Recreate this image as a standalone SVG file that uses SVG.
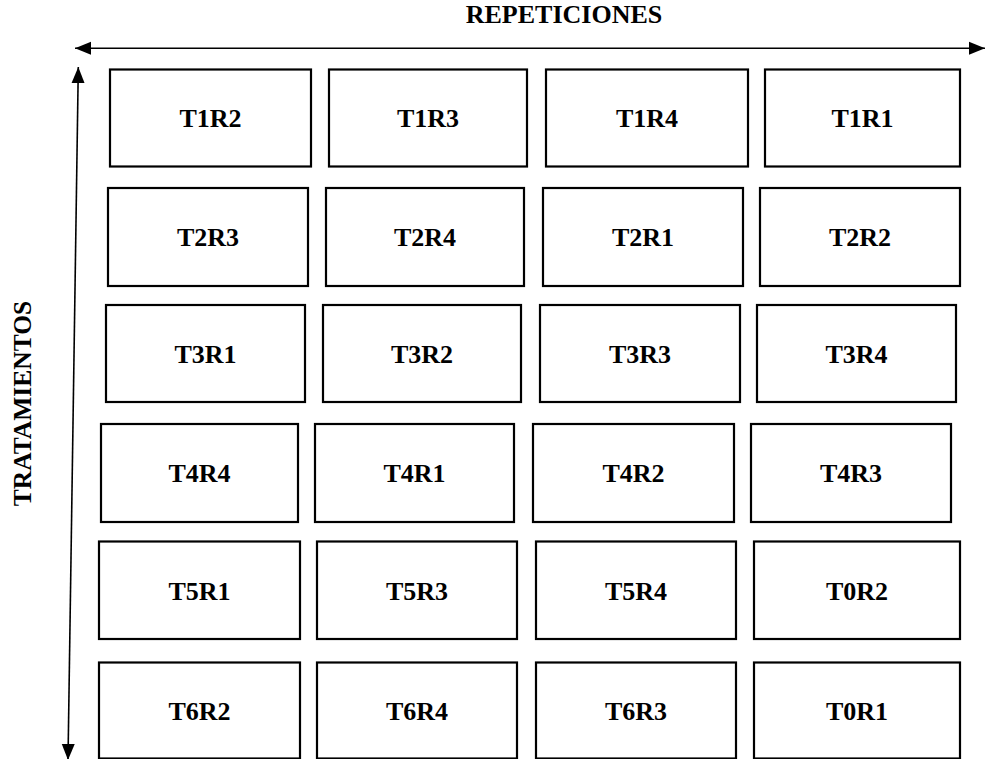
<svg xmlns="http://www.w3.org/2000/svg" width="985" height="759" viewBox="0 0 985 759">
  <style>
    .box { fill: #ffffff; stroke: #000000; stroke-width: 2.2; }
    .lbl { font-family: "Liberation Serif", "Times New Roman", serif; font-weight: bold; font-size: 26px; fill: #000000; text-anchor: middle; }
    .axis { stroke: #000000; stroke-width: 1.6; fill: none; marker-start: url(#arr); marker-end: url(#arr); }
  </style>
  <defs>
    <marker id="arr" markerUnits="userSpaceOnUse" markerWidth="17" markerHeight="14" refX="16" refY="7" orient="auto-start-reverse" viewBox="0 0 17 14">
      <path d="M0,0.5 L16,7 L0,13.5 z" fill="#000000"/>
    </marker>
  </defs>
  <rect width="985" height="759" fill="#ffffff"/>

  <g id="axis-labels">
    <text class="lbl" x="564" y="23">REPETICIONES</text>
    <text class="lbl" x="0" y="0" style="font-size:25.5px" transform="translate(31,403.5) rotate(-90)">TRATAMIENTOS</text>
  </g>

  <g id="connectors">
    <line class="axis" x1="75" y1="48.3" x2="985" y2="48.3"/>
    <line class="axis" x1="78.3" y1="67" x2="68" y2="760"/>
  </g>

  <g id="row1">
    <g id="T1R2"><rect class="box" x="110" y="69.5" width="201" height="97"/><text class="lbl" x="210.5" y="127">T1R2</text></g>
    <g id="T1R3"><rect class="box" x="329" y="69.5" width="198" height="97"/><text class="lbl" x="428" y="127">T1R3</text></g>
    <g id="T1R4"><rect class="box" x="546" y="69.5" width="202" height="97"/><text class="lbl" x="647" y="127">T1R4</text></g>
    <g id="T1R1"><rect class="box" x="765" y="69.5" width="195" height="97"/><text class="lbl" x="862.5" y="127">T1R1</text></g>
  </g>
  <g id="row2">
    <g id="T2R3"><rect class="box" x="108" y="188" width="200" height="98"/><text class="lbl" x="208" y="246">T2R3</text></g>
    <g id="T2R4"><rect class="box" x="326" y="188" width="198" height="98"/><text class="lbl" x="425" y="246">T2R4</text></g>
    <g id="T2R1"><rect class="box" x="543" y="188" width="200" height="98"/><text class="lbl" x="643" y="246">T2R1</text></g>
    <g id="T2R2"><rect class="box" x="760" y="188" width="200" height="98"/><text class="lbl" x="860" y="246">T2R2</text></g>
  </g>
  <g id="row3">
    <g id="T3R1"><rect class="box" x="106" y="305" width="199" height="97"/><text class="lbl" x="205.5" y="362.5">T3R1</text></g>
    <g id="T3R2"><rect class="box" x="323" y="305" width="198" height="97"/><text class="lbl" x="422" y="362.5">T3R2</text></g>
    <g id="T3R3"><rect class="box" x="540" y="305" width="200" height="97"/><text class="lbl" x="640" y="362.5">T3R3</text></g>
    <g id="T3R4"><rect class="box" x="757" y="305" width="199" height="97"/><text class="lbl" x="856.5" y="362.5">T3R4</text></g>
  </g>
  <g id="row4">
    <g id="T4R4"><rect class="box" x="101" y="424" width="197" height="98"/><text class="lbl" x="199.5" y="482">T4R4</text></g>
    <g id="T4R1"><rect class="box" x="315" y="424" width="199" height="98"/><text class="lbl" x="414.5" y="482">T4R1</text></g>
    <g id="T4R2"><rect class="box" x="533" y="424" width="201" height="98"/><text class="lbl" x="633.5" y="482">T4R2</text></g>
    <g id="T4R3"><rect class="box" x="751" y="424" width="200" height="98"/><text class="lbl" x="851" y="482">T4R3</text></g>
  </g>
  <g id="row5">
    <g id="T5R1"><rect class="box" x="99" y="541.5" width="201" height="97.5"/><text class="lbl" x="199.5" y="599.5">T5R1</text></g>
    <g id="T5R3"><rect class="box" x="317" y="541.5" width="200" height="97.5"/><text class="lbl" x="417" y="599.5">T5R3</text></g>
    <g id="T5R4"><rect class="box" x="536" y="541.5" width="200" height="97.5"/><text class="lbl" x="636" y="599.5">T5R4</text></g>
    <g id="T0R2"><rect class="box" x="754" y="541.5" width="206" height="97.5"/><text class="lbl" x="857" y="599.5">T0R2</text></g>
  </g>
  <g id="row6">
    <g id="T6R2"><rect class="box" x="99" y="662.5" width="201" height="96"/><text class="lbl" x="199.5" y="720">T6R2</text></g>
    <g id="T6R4"><rect class="box" x="317" y="662.5" width="200" height="96"/><text class="lbl" x="417" y="720">T6R4</text></g>
    <g id="T6R3"><rect class="box" x="536" y="662.5" width="200" height="96"/><text class="lbl" x="636" y="720">T6R3</text></g>
    <g id="T0R1"><rect class="box" x="754" y="662.5" width="206" height="96"/><text class="lbl" x="857" y="720">T0R1</text></g>
  </g>
</svg>
